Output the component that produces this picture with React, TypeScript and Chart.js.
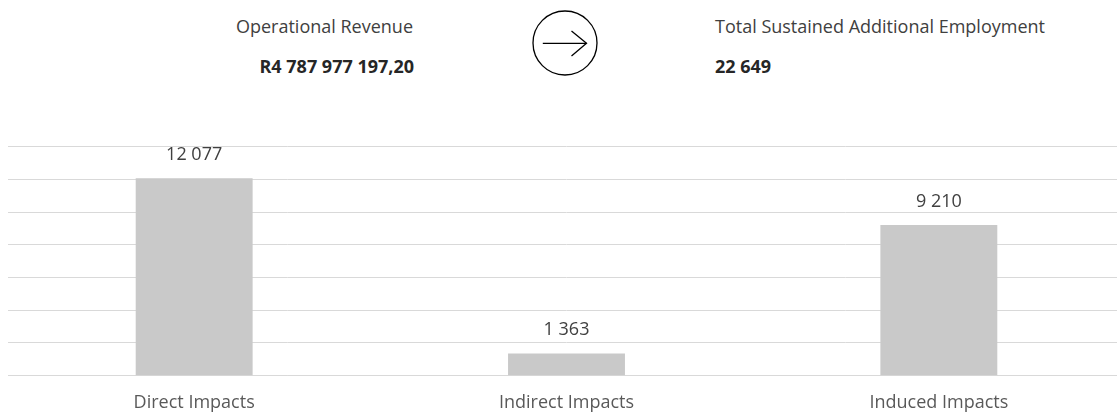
import React, { useEffect, useRef } from "react";
import { Chart, registerables } from "chart.js";

Chart.register(...registerables);

const categories = ["Direct Impacts", "Indirect Impacts", "Induced Impacts"];
const employment = [12077, 1363, 9210];
const yTicks = [0, 2000, 4000, 6000, 8000, 10000, 12000, 14000];

const revenueLabel = "Operational Revenue";
const revenueValue = "R4 787 977 197,20";
const employmentLabel = "Total Sustained Additional Employment";
const employmentTotal = "22 649";

const FONT = "'Open Sans', 'DejaVu Sans', sans-serif";

function fmt(v: number): string {
  return String(v).replace(/\B(?=(\d{3})+(?!\d))/g, " ");
}

const barLabels = {
  id: "barLabels",
  afterDatasetsDraw(chart: any) {
    const ctx = chart.ctx;
    const meta = chart.getDatasetMeta(0);
    const data = chart.data.datasets[0].data as number[];
    ctx.save();
    ctx.font = `18px ${FONT}`;
    ctx.fillStyle = "#404040";
    ctx.textAlign = "center";
    ctx.textBaseline = "alphabetic";
    meta.data.forEach((bar: any, i: number) => {
      ctx.fillText(fmt(data[i]), bar.x, bar.y - 18);
    });
    ctx.restore();
  },
};

export default function App() {
  const ref = useRef<HTMLCanvasElement>(null);

  useEffect(() => {
    if (!ref.current) return;
    const chart = new Chart(ref.current, {
      type: "bar",
      data: {
        labels: categories,
        datasets: [
          {
            data: employment,
            backgroundColor: "#c9c9c9",
            borderWidth: 0,
            barPercentage: 0.314,
            categoryPercentage: 1,
          },
        ],
      },
      options: {
        animation: false,
        responsive: false,
        maintainAspectRatio: false,
        layout: { padding: { top: 146.7, bottom: 0, left: 0, right: 0 } },
        plugins: {
          legend: { display: false },
          tooltip: { enabled: false },
        },
        scales: {
          x: {
            afterFit: (scale: any) => {
              scale.height = 38.3;
            },
            grid: { display: false, drawTicks: false },
            border: { display: true, color: "#d9d9d9", width: 1 },
            ticks: {
              color: "#595959",
              font: { family: FONT, size: 18 },
              padding: 16,
              maxRotation: 0,
            },
          },
          y: {
            min: 0,
            max: 14000,
            afterBuildTicks: (scale: any) => {
              scale.ticks = yTicks.map((v) => ({ value: v }));
            },
            grid: { color: "#d9d9d9", lineWidth: 1, drawTicks: false },
            border: { display: false },
            ticks: { display: false },
          },
        },
      },
      plugins: [barLabels],
    });
    return () => chart.destroy();
  }, []);

  const txt: React.CSSProperties = {
    position: "absolute",
    fontFamily: FONT,
    fontSize: 18,
    lineHeight: "24px",
    whiteSpace: "nowrap",
    color: "#404040",
  };

  return (
    <div
      style={{
        position: "absolute",
        left: 0,
        top: 0,
        width: 1117,
        height: 414,
        overflow: "hidden",
        background: "#ffffff",
      }}
    >
      <div style={{ ...txt, left: 0, width: 413, textAlign: "right", top: 13.7 }}>
        {revenueLabel}
      </div>
      <div
        style={{
          ...txt,
          left: 0,
          width: 414,
          textAlign: "right",
          top: 53.5,
          fontWeight: 700,
          color: "#262626",
        }}
      >
        {revenueValue}
      </div>
      <div style={{ ...txt, left: 715, top: 13.7 }}>{employmentLabel}</div>
      <div style={{ ...txt, left: 715, top: 53.5, fontWeight: 700, color: "#262626" }}>
        {employmentTotal}
      </div>
      <svg
        width={80}
        height={80}
        viewBox="0 0 80 80"
        style={{ position: "absolute", left: 524.5, top: 3 }}
      >
        <circle cx={40} cy={40} r={32} fill="none" stroke="#000" strokeWidth={1.3} />
        <line x1={17.8} y1={40.3} x2={61.5} y2={40.3} stroke="#000" strokeWidth={1.3} />
        <polyline
          points="46.5,28 61.5,40.3 46.5,53"
          fill="none"
          stroke="#000"
          strokeWidth={1.3}
        />
      </svg>
      <canvas
        ref={ref}
        width={1117}
        height={414}
        style={{ position: "absolute", left: 8, top: 0, width: 1117, height: 414 }}
      />
    </div>
  );
}
